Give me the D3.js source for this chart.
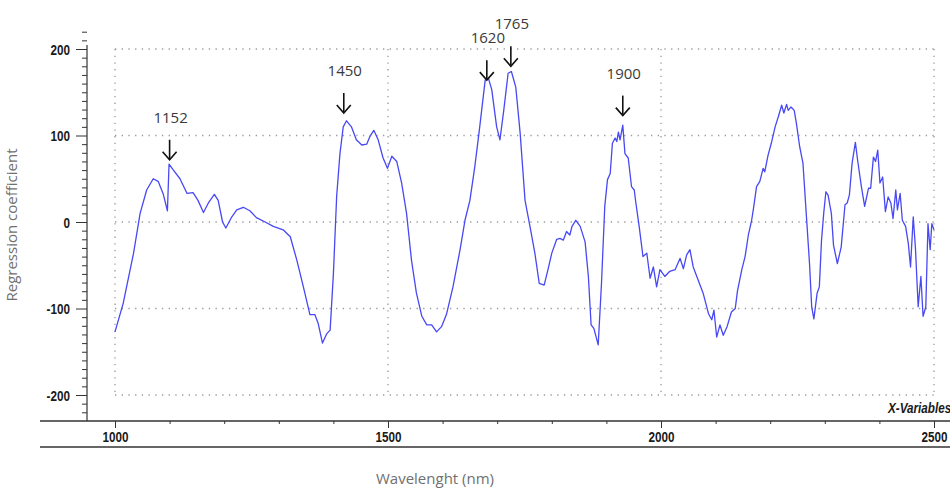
<!DOCTYPE html>
<html>
<head>
<meta charset="utf-8">
<script src="https://cdn.jsdelivr.net/npm/d3@7"></script>
<style>
  body { margin: 0; background: #fff; }
  .tick-label { font-family: "Liberation Sans Narrow", "Arial Narrow", "Liberation Sans", sans-serif; font-weight: bold; font-size: 15px; fill: #1a1a1a; }
  .axis-title { font-family: "Open Sans", sans-serif; font-size: 15px; fill: #707070; }
  .peak-label { font-family: "Open Sans", sans-serif; font-size: 15px; fill: #3a3a3a; }
</style>
</head>
<body>
<div id="chart"></div>
<script>
// regression coefficient spectrum
const wavelengths = [
  1000, 1015, 1034, 1046, 1058, 1070, 1079, 1088, 1096, 1099, 1107, 1119, 1132, 1143, 1152, 1162,
  1171, 1182, 1189, 1197, 1203, 1214, 1223, 1235, 1247, 1259, 1275, 1290, 1308, 1321, 1333, 1345,
  1357, 1366, 1372, 1380, 1388, 1394, 1400, 1406, 1412, 1418, 1424, 1433, 1442, 1452, 1461, 1467,
  1474, 1482, 1491, 1499, 1507, 1516, 1525, 1534, 1543, 1552, 1562, 1571, 1580, 1589, 1598, 1607,
  1619, 1632, 1641, 1650, 1659, 1668, 1678, 1684, 1690, 1699, 1705, 1712, 1720, 1726, 1734, 1742,
  1751, 1760, 1769, 1777, 1786, 1793, 1800, 1809, 1815, 1821, 1827, 1833, 1837, 1844, 1852, 1861,
  1867, 1872, 1877, 1885, 1891, 1897, 1902, 1907, 1911, 1916, 1919, 1922, 1925, 1930, 1934, 1940,
  1946, 1951, 1954, 1960, 1967, 1974, 1980, 1986, 1992, 1998, 2007, 2016, 2026, 2035, 2041, 2047,
  2053, 2059, 2068, 2077, 2087, 2093, 2097, 2102, 2108, 2114, 2121, 2129, 2136, 2140, 2148, 2154,
  2160, 2166, 2169, 2175, 2181, 2187, 2190, 2196, 2202, 2209, 2215, 2221, 2225, 2230, 2233, 2238,
  2244, 2248, 2254, 2260, 2266, 2272, 2276, 2280, 2286, 2290, 2294, 2298, 2302, 2306, 2312, 2316,
  2323, 2330, 2337, 2341, 2345, 2350, 2356, 2360, 2367, 2373, 2380, 2384, 2389, 2393, 2397, 2401,
  2406, 2411, 2416, 2421, 2425, 2430, 2433, 2438, 2442, 2448, 2453, 2457, 2462, 2466, 2471, 2476,
  2480, 2485, 2489, 2493, 2496, 2500
]
const coefficients = [
  -127, -94, -36, 10, 37, 50, 47, 33, 13, 67, 60, 50, 33, 34, 25, 11,
  22, 32, 25, 0, -7, 6, 14, 17, 13, 5, 0, -5, -9, -17, -44, -75,
  -107, -107, -117, -140, -129, -125, -60, 30, 79, 110, 117, 110, 95, 89, 90, 99,
  106, 95, 74, 62, 76, 70, 45, 10, -44, -82, -109, -119, -119, -127, -121, -107,
  -75, -32, 2, 25, 64, 110, 164, 166, 153, 110, 95, 129, 172, 174, 156, 103,
  25, -5, -36, -71, -73, -55, -36, -20, -19, -21, -11, -15, -5, 2, -5, -23,
  -63, -119, -123, -142, -71, 18, 49, 56, 91, 97, 93, 104, 95, 112, 79, 74,
  41, 37, 22, -5, -40, -36, -65, -52, -75, -55, -63, -57, -55, -42, -54, -38,
  -32, -52, -67, -82, -106, -113, -102, -133, -119, -131, -121, -104, -100, -80, -55, -40,
  -15, 2, 14, 41, 47, 62, 58, 77, 91, 110, 122, 135, 126, 136, 129, 133,
  129, 114, 87, 68, 10, -48, -98, -112, -82, -75, -21, 10, 35, 31, 10, -27,
  -48, -29, 20, 22, 31, 68, 92, 72, 41, 18, 39, 39, 75, 70, 83, 45,
  52, 12, 29, 22, 4, 37, 14, 33, 2, -5, -25, -52, 6, -30, -98, -63,
  -109, -98, -2, -32, -2, -9
]

const xTicks = [1000, 1500, 2000, 2500]
const yTicks = [-200, -100, 0, 100, 200]

// annotated peaks: label, wavelength where the arrow points, coefficient at arrow tip
const peakNames = ["1152", "1450", "1620", "1765", "1900"]
const peakAt = [1100, 1419, 1681, 1725, 1930]
const peakTip = [72, 126, 164, 180, 123]

const width = 950, height = 488
const squeeze = 0.78   // narrow look of the tick font

const svg = d3.select("#chart")
  .append("svg")
  .attr("width", width)
  .attr("height", height)

const x = d3.scaleLinear().domain([1000, 2500]).range([115, 934])
const y = d3.scaleLinear().domain([-200, 200]).range([395, 49])

const gridColor = "#999"

// dotted grid
svg.append("g").selectAll("line")
  .data(yTicks)
  .enter().append("line")
  .attr("x1", x(1000)).attr("x2", x(2500))
  .attr("y1", d => y(d)).attr("y2", d => y(d))
  .attr("stroke", gridColor)
  .attr("stroke-width", 1.3)
  .attr("stroke-dasharray", "1.3 5.4")

svg.append("g").selectAll("line")
  .data(xTicks)
  .enter().append("line")
  .attr("x1", d => x(d)).attr("x2", d => x(d))
  .attr("y1", y(200)).attr("y2", y(-200))
  .attr("stroke", gridColor)
  .attr("stroke-width", 1.3)
  .attr("stroke-dasharray", "1.3 5.4")

// y axis
const yAxisX = 87
const yAxis = d3.axisLeft(y)
  .tickValues(d3.range(-220, 221, 10))
  .tickSize(5)
  .tickFormat("")
const yAxisGroup = svg.append("g")
  .attr("transform", `translate(${yAxisX},0)`)
  .call(yAxis)
yAxisGroup.select(".domain").remove()
yAxisGroup.selectAll(".tick line").attr("stroke", "#333")
yAxisGroup.selectAll(".tick")
  .filter(d => yTicks.includes(d))
  .select("line").attr("x2", -11)
yAxisGroup.selectAll(".tick")
  .filter(d => yTicks.includes(d))
  .append("text")
  .attr("class", "tick-label")
  .attr("transform", `scale(${squeeze},1)`)
  .attr("x", -17 / squeeze)
  .attr("dy", "0.35em")
  .attr("text-anchor", "end")
  .text(d => d)

svg.append("line")
  .attr("x1", yAxisX).attr("x2", yAxisX)
  .attr("y1", 45).attr("y2", 421)
  .attr("stroke", "#333")
  .attr("stroke-width", 1.2)

// x axis
const xAxisY = 421
const xAxis = d3.axisBottom(x)
  .tickValues(d3.range(1000, 2501, 100))
  .tickSize(3)
  .tickFormat("")
const xAxisGroup = svg.append("g")
  .attr("transform", `translate(0,${xAxisY})`)
  .call(xAxis)
xAxisGroup.select(".domain").remove()
xAxisGroup.selectAll(".tick line").attr("stroke", "#333")
xAxisGroup.selectAll(".tick")
  .filter(d => xTicks.includes(d))
  .select("line").attr("y2", 7)
xAxisGroup.selectAll(".tick")
  .filter(d => xTicks.includes(d))
  .append("text")
  .attr("class", "tick-label")
  .attr("transform", `scale(${squeeze},1)`)
  .attr("y", 16)
  .attr("dy", "0.35em")
  .attr("text-anchor", "middle")
  .text(d => d)

svg.append("line")
  .attr("x1", 40).attr("x2", width)
  .attr("y1", xAxisY).attr("y2", xAxisY)
  .attr("stroke", "#333")
  .attr("stroke-width", 1.5)

svg.append("line")
  .attr("x1", 40).attr("x2", width)
  .attr("y1", 447).attr("y2", 447)
  .attr("stroke", "#333")
  .attr("stroke-width", 1.5)

svg.append("text")
  .attr("class", "tick-label")
  .attr("transform", `scale(${squeeze},1)`)
  .attr("x", 888 / squeeze)
  .attr("y", 413)
  .style("font-style", "italic")
  .text("X-Variables")

// axis titles
svg.append("text")
  .attr("class", "axis-title")
  .attr("transform", "translate(17,225) rotate(-90)")
  .attr("text-anchor", "middle")
  .text("Regression coefficient")

svg.append("text")
  .attr("class", "axis-title")
  .attr("x", 435)
  .attr("y", 484)
  .attr("text-anchor", "middle")
  .text("Wavelenght (nm)")

// spectrum line
const series = wavelengths.map((w, i) => ({w: w, v: coefficients[i]}))
const line = d3.line()
  .x(d => x(d.w))
  .y(d => y(d.v))

svg.append("path")
  .datum(series)
  .attr("fill", "none")
  .attr("stroke", "#4848f4")
  .attr("stroke-width", 1.3)
  .attr("stroke-linejoin", "round")
  .attr("d", line)

// peak arrows
const peaks = peakNames.map((n, i) => ({name: n, w: peakAt[i], v: peakTip[i]}))
const arrows = svg.append("g").selectAll("g")
  .data(peaks)
  .enter().append("g")
  .attr("transform", d => `translate(${x(d.w)},${y(d.v)})`)

arrows.append("line")
  .attr("x1", 0).attr("x2", 0)
  .attr("y1", -20).attr("y2", 0)
  .attr("stroke", "#111")
  .attr("stroke-width", 1.6)
arrows.append("path")
  .attr("d", "M-7,-8L0,0L7,-8")
  .attr("fill", "none")
  .attr("stroke", "#111")
  .attr("stroke-width", 1.6)
arrows.append("text")
  .attr("class", "peak-label")
  .attr("x", 1)
  .attr("y", -37)
  .attr("text-anchor", "middle")
  .text(d => d.name)
</script>
</body>
</html>
